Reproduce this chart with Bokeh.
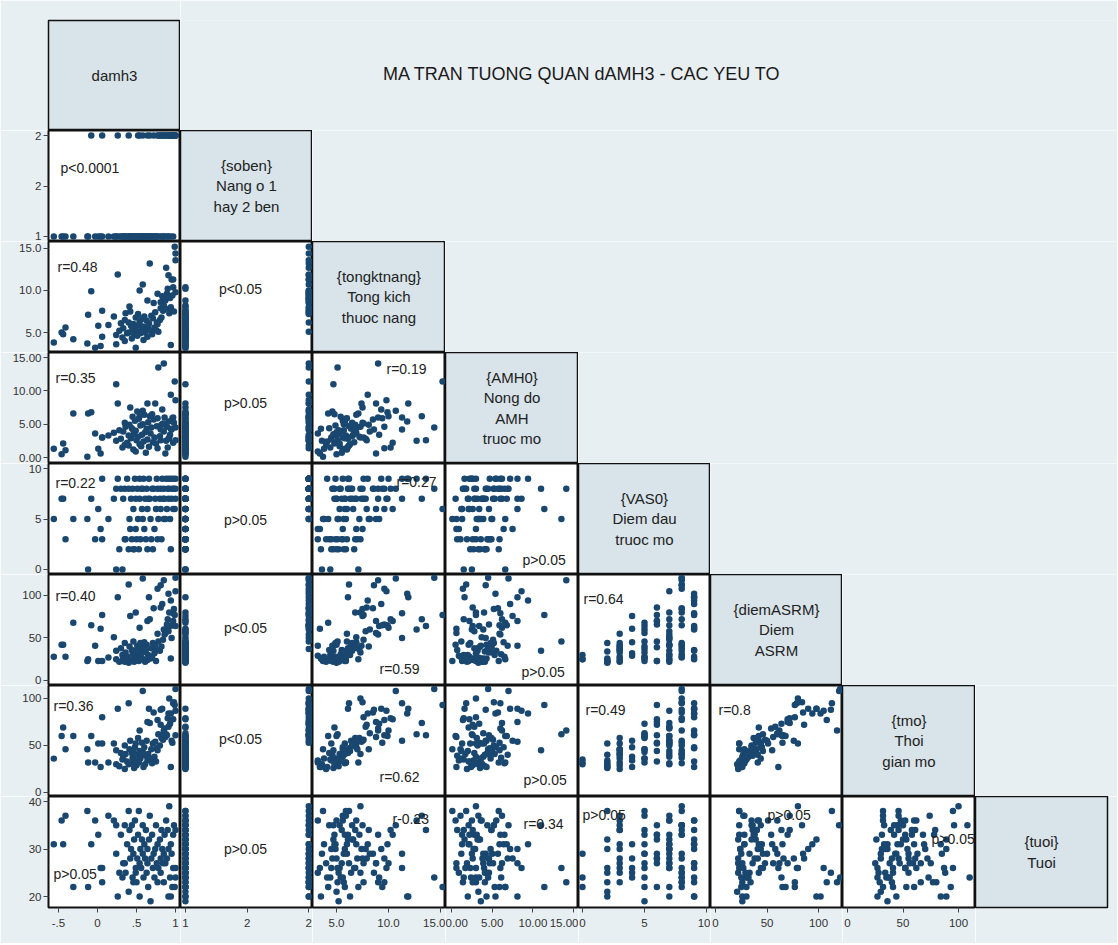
from bokeh.plotting import figure
from bokeh.layouts import row, column
from bokeh.models import Range1d, FixedTicker, Label
from bokeh.embed import file_html
from bokeh.resources import INLINE
from bokeh.core.properties import value

damh3 = [-0.56, -0.46, -0.44, -0.41, -0.31, -0.13, -0.12, -0.08, -0.03, 0.01,
         0.04, 0.06, 0.06, 0.14, 0.21, 0.26, 0.24, 0.24, 0.28, 0.30,
         0.32, 0.33, 0.35, 0.36, 0.38, 0.40, 0.40, 0.41, 0.42, 0.43,
         0.44, 0.45, 0.46, 0.47, 0.48, 0.49, 0.49, 0.50, 0.51, 0.52,
         0.53, 0.54, 0.54, 0.55, 0.56, 0.57, 0.58, 0.58, 0.59, 0.60,
         0.61, 0.62, 0.63, 0.64, 0.64, 0.65, 0.66, 0.67, 0.68, 0.69,
         0.70, 0.71, 0.72, 0.73, 0.74, 0.75, 0.76, 0.77, 0.77, 0.78,
         0.80, 0.81, 0.81, 0.82, 0.83, 0.84, 0.85, 0.85, 0.86, 0.87,
         0.88, 0.89, 0.90, 0.91, 0.91, 0.92, 0.93, 0.94, 0.94, 0.95,
         0.96, 0.97, 0.97, 0.98, 0.99, 1.00, 1.00, 1.00, 0.35, 0.46]
soben = [1, 1, 1, 1, 1, 1, 1, 2, 1, 1,
         1, 2, 1, 1, 1, 2, 1, 1, 1, 1,
         1, 1, 1, 1, 1, 2, 1, 1, 1, 1,
         1, 1, 1, 1, 1, 1, 1, 1, 1, 2,
         1, 2, 1, 1, 1, 1, 2, 1, 1, 1,
         1, 1, 1, 2, 1, 1, 1, 2, 1, 1,
         1, 1, 2, 1, 1, 1, 1, 2, 1, 2,
         1, 2, 2, 1, 2, 1, 2, 1, 2, 1,
         2, 2, 1, 2, 1, 2, 2, 2, 1, 2,
         2, 2, 1, 2, 2, 2, 2, 2, 1, 1]
tongktnang = [3.8, 5.0, 4.8, 5.6, 4.2, 3.7, 7.1, 9.9, 3.2, 5.8,
              3.4, 7.6, 4.5, 5.9, 6.9, 11.9, 4.7, 3.6, 5.2, 6.1,
              4.4, 5.5, 6.5, 7.3, 4.9, 6.2, 5.0, 8.1, 7.5, 5.8,
              4.3, 5.4, 6.0, 4.7, 5.6, 3.2, 6.8, 5.1, 4.6, 7.2,
              5.9, 10.0, 6.3, 4.9, 5.3, 6.6, 10.7, 5.7, 4.1, 6.9,
              5.0, 5.5, 6.4, 8.8, 4.5, 5.8, 6.1, 13.2, 5.2, 7.0,
              4.8, 6.7, 8.5, 5.6, 7.4, 5.3, 6.2, 9.6, 6.0, 5.1,
              6.5, 8.6, 7.9, 6.8, 9.3, 7.6, 9.0, 8.2, 9.0, 8.8,
              12.7, 9.6, 10.2, 11.8, 7.8, 7.3, 9.1, 8.0, 3.5, 11.3,
              9.4, 11.3, 10.4, 7.5, 15.2, 13.6, 9.8, 14.4, 4.0, 5.7]
AMH0 = [1.3, 0.5, 2.1, 1.1, 6.6, 0.1, 6.6, 6.8, 3.6, 1.3,
        0.6, 3.0, 3.0, 3.3, 3.7, 8.1, 11.0, 2.5, 4.1, 2.8,
        1.5, 3.9, 5.2, 4.6, 2.2, 1.8, 3.3, 4.9, 7.5, 2.9,
        4.4, 6.1, 1.2, 3.5, 5.5, 0.9, 4.0, 2.6, 6.9, 3.1,
        5.8, 6.2, 2.0, 4.8, 1.7, 3.4, 7.0, 5.0, 2.4, 6.4,
        3.8, 0.7, 4.3, 8.1, 2.7, 5.3, 1.6, 6.2, 3.6, 4.5,
        6.5, 2.3, 5.7, 3.0, 8.1, 2.1, 4.7, 1.4, 5.9, 13.5,
        3.2, 4.2, 2.6, 4.9, 7.2, 5.1, 14.1, 3.9, 6.0, 0.6,
        2.5, 4.6, 1.5, 5.4, 2.8, 3.0, 3.4, 9.4, 4.3, 4.2,
        5.9, 6.0, 2.2, 5.2, 11.4, 2.6, 8.6, 4.5, 1.9, 4.1]
VAS0 = [5, 7, 7, 3, 5, 5, 0, 7, 3, 6,
        4, 9, 3, 5, 7, 9, 8, 0, 2, 8,
        0, 7, 8, 3, 9, 8, 2, 5, 4, 7,
        3, 8, 6, 2, 9, 4, 7, 3, 8, 5,
        2, 9, 7, 3, 8, 6, 8, 5, 9, 4,
        7, 3, 8, 6, 2, 7, 9, 7, 5, 3,
        8, 2, 8, 4, 7, 6, 9, 8, 3, 5,
        7, 8, 6, 3, 9, 7, 8, 5, 7, 5,
        9, 6, 8, 9, 7, 8, 5, 9, 2, 7,
        8, 9, 6, 8, 6, 9, 7, 8, 3, 2]
diemASRM = [28, 42, 42, 28, 68, 23, 25, 65, 41, 23,
            61, 77, 23, 27, 51, 98, 35, 25, 22, 38,
            30, 26, 44, 33, 28, 113, 21, 40, 76, 24,
            36, 31, 46, 22, 35, 29, 80, 26, 41, 37,
            23, 62, 30, 44, 27, 39, 120, 33, 25, 45,
            22, 36, 42, 70, 24, 30, 98, 72, 26, 38,
            28, 44, 85, 32, 41, 23, 36, 108, 55, 46,
            35, 112, 86, 40, 90, 48, 118, 60, 54, 56,
            60, 66, 72, 102, 58, 80, 64, 94, 26, 50,
            65, 79, 70, 84, 77, 64, 105, 121, 22, 34]
tmo = [36, 60, 69, 46, 60, 46, 32, 60, 32, 52,
       27, 80, 52, 32, 52, 89, 45, 30, 28, 42,
       35, 38, 50, 41, 33, 95, 30, 46, 55, 31,
       42, 37, 44, 26, 48, 34, 52, 29, 40, 58,
       32, 66, 44, 36, 41, 53, 108, 43, 27, 48,
       30, 39, 55, 75, 34, 41, 89, 74, 36, 46,
       31, 52, 85, 38, 54, 33, 47, 77, 45, 62,
       50, 88, 72, 58, 89, 56, 66, 63, 68, 59,
       62, 61, 79, 84, 70, 100, 73, 84, 27, 55,
       53, 95, 78, 96, 93, 61, 87, 110, 25, 40]
tuoi = [31, 36, 31, 37, 22, 38, 22, 31, 36, 33,
        26, 23, 26, 37, 36, 20, 35, 29, 25, 33,
        24, 27, 35, 25, 31, 38, 21, 34, 28, 30,
        35, 24, 29, 32, 36, 25, 26, 23, 28, 33,
        38, 27, 20, 30, 26, 32, 35, 29, 24, 31,
        28, 34, 25, 27, 30, 22, 32, 37, 19, 28,
        33, 26, 29, 24, 30, 35, 27, 23, 31, 26,
        32, 25, 28, 34, 30, 27, 23, 29, 33, 27,
        36, 28, 34, 20, 30, 39, 24, 31, 20, 29,
        22, 26, 33, 35, 22, 34, 26, 24, 27, 23]

variables = [damh3, soben, tongktnang, AMH0, VAS0, diemASRM, tmo, tuoi]
headers = ["damh3",
           "{soben}\nNang o 1\nhay 2 ben",
           "{tongktnang}\nTong kich\nthuoc nang",
           "{AMH0}\nNong do\nAMH\ntruoc mo",
           "{VAS0}\nDiem dau\ntruoc mo",
           "{diemASRM}\nDiem\nASRM",
           "{tmo}\nThoi\ngian mo",
           "{tuoi}\nTuoi"]
tick_values = [[-0.5, 0, 0.5, 1], [1, 1.5, 2], [5, 10, 15], [0, 5, 10, 15],
               [0, 5, 10], [0, 50, 100], [0, 50, 100], [20, 30, 40]]
tick_labels = [["-.5", "0", ".5", "1"], ["1", "2", "2"], ["5.0", "10.0", "15.0"],
               ["0.00", "5.00", "10.00", "15.00"], ["0", "5", "10"],
               ["0", "50", "100"], ["0", "50", "100"], ["20", "30", "40"]]
title_text = "MA TRAN TUONG QUAN dAMH3 - CAC YEU TO"

# annotations: (row, col, text, px from left, px from top, align)
annotations = [
    (1, 0, "p<0.0001", 12, 37, "left"),
    (2, 0, "r=0.48", 9, 25, "left"), (2, 1, "p<0.05", 60, 47, "center"),
    (3, 0, "r=0.35", 7, 25, "left"), (3, 1, "p>0.05", 65, 50, "center"),
    (3, 2, "r=0.19", 74, 16, "left"),
    (4, 0, "r=0.22", 7, 19, "left"), (4, 1, "p>0.05", 65, 56, "center"),
    (4, 2, "r=0.27", 84, 18, "left"), (4, 3, "p>0.05", 77, 96, "left"),
    (5, 0, "r=0.40", 7, 21, "left"), (5, 1, "p<0.05", 65, 53, "center"),
    (5, 2, "r=0.59", 67, 94, "left"), (5, 3, "p>0.05", 76, 97, "left"),
    (5, 4, "r=0.64", 5, 24, "left"),
    (6, 0, "r=0.36", 5, 20, "left"), (6, 1, "p<0.05", 60, 53, "center"),
    (6, 2, "r=0.62", 67, 91, "left"), (6, 3, "p>0.05", 78, 94, "left"),
    (6, 4, "r=0.49", 7, 24, "left"), (6, 5, "r=0.8", 8, 24, "left"),
    (7, 0, "p>0.05", 5, 77, "left"), (7, 1, "p>0.05", 65, 52, "center"),
    (7, 2, "r-0.23", 80, 22, "left"), (7, 3, "r=0.34", 78, 27, "left"),
    (7, 4, "p>0.05", 4, 18, "left"), (7, 5, "p>0.05", 57, 18, "left"),
    (7, 6, "p>0.05", 89, 42, "left"),
]

# ---------------- style / layout -------------
BG = "#e8eff2"
HDR = "#d8e3ea"
DOT = "#1a476f"
TXT = "#222222"
FONT = "Liberation Sans"
LEFT, TOP, BOTTOM, RIGHT = 48, 20, 36, 10
col_w = [132, 132, 133, 133, 132, 132, 133, 132]
row_h = [110, 111, 111, 111, 111, 111, 111, 111]
x_ext = [(-0.628, 1.064), (0.96, 2.03), (2.69, 15.48), (-0.74, 15.6),
         (-0.32, 10.32), (-4.9, 123.3), (-4.5, 115.3), (0, 1)]
y_ext = [(0, 1), (0.95, 2.05), (2.62, 15.83), (-0.9, 15.75),
         (-0.5, 10.5), (-5.9, 124.7), (-4.3, 113.8), (17.7, 41.05)]


def make_fig(w, h, xr, yr, left=0, top=0, bottom=0, right=0, xaxis=False, yaxis=False,
             fill="white", outline=True):
    p = figure(width=w + left + right, height=h + top + bottom,
               x_range=Range1d(*xr), y_range=Range1d(*yr),
               toolbar_location=None, output_backend="svg",
               x_axis_location="below" if xaxis else None,
               y_axis_location="left" if yaxis else None,
               min_border=0, min_border_left=left, min_border_right=right,
               min_border_top=top, min_border_bottom=bottom)
    p.grid.visible = False
    p.background_fill_color = fill
    p.border_fill_color = BG
    if outline:
        p.outline_line_color = "#111111"
        p.outline_line_width = 2
    else:
        p.outline_line_color = None
    return p


def style_axis(ax, vals, labels, standoff):
    ax.ticker = FixedTicker(ticks=vals)
    ov = {}
    for v, l in zip(vals, labels):
        ov[v] = l
        ov[str(int(v)) if float(v).is_integer() else str(v)] = l
    ax.major_label_overrides = ov
    ax.axis_line_color = None
    ax.major_tick_out = 5
    ax.major_tick_in = 0
    ax.minor_tick_out = 0
    ax.minor_tick_in = 0
    ax.major_tick_line_color = "#444444"
    ax.major_label_text_font = FONT
    ax.major_label_text_font_size = "11.5px"
    ax.major_label_text_color = "#333333"
    ax.major_label_standoff = standoff


def header_fig(i, left=0, top=0, bottom=0, right=0):
    p = make_fig(col_w[i], row_h[i], (0, 1), (0, 1), left=left, top=top,
                 bottom=bottom, right=right, fill=HDR)
    p.outline_line_width = 1.5
    p.text(x=[0.5], y=[0.5], text=[headers[i]], text_align="center",
           text_baseline="middle", text_font=value(FONT), text_font_size="15px",
           text_color=TXT, text_line_height=1.2)
    return p


grid = {}
rows = []
for r in range(8):
    kids = []
    for c in range(r):
        p = make_fig(col_w[c], row_h[r], x_ext[c], y_ext[r],
                     left=LEFT if c == 0 else 0, bottom=BOTTOM if r == 7 else 0,
                     xaxis=(r == 7), yaxis=(c == 0))
        p.scatter(x=variables[c], y=variables[r], size=6.5, marker="circle",
                  fill_color=DOT, line_color=None)
        if r == 7:
            style_axis(p.xaxis[0], tick_values[c], tick_labels[c], 6)
        if c == 0:
            style_axis(p.yaxis[0], tick_values[r], tick_labels[r], 2)
        grid[(r, c)] = p
        kids.append(p)
    kids.append(header_fig(r, left=LEFT if r == 0 else 0, top=TOP if r == 0 else 0,
                           bottom=BOTTOM if r == 7 else 0, right=RIGHT if r == 7 else 0))
    if r < 7:
        fw = sum(col_w[r + 1:]) + RIGHT
        f = make_fig(fw, row_h[r], (0, 1), (0, 1), top=TOP if r == 0 else 0,
                     fill=BG, outline=False)
        if r == 0:
            f.text(x=[0.429], y=[0.51], text=[title_text], text_align="center",
                   text_baseline="middle", text_font=value(FONT),
                   text_font_size="18px", text_color="#1a1a1a")
        kids.append(f)
    rows.append(row(*kids))

for (r, c, txt, px, py, al) in annotations:
    x0, x1 = x_ext[c]
    y0, y1 = y_ext[r]
    x = x0 + px / col_w[c] * (x1 - x0)
    y = y1 - py / row_h[r] * (y1 - y0)
    grid[(r, c)].add_layout(Label(x=x, y=y, text=txt, text_align=al,
                                  text_baseline="middle", text_font=FONT,
                                  text_font_size="14px", text_color=TXT))

layout = column(*rows)
open("out.html", "w").write(file_html(layout, INLINE))
